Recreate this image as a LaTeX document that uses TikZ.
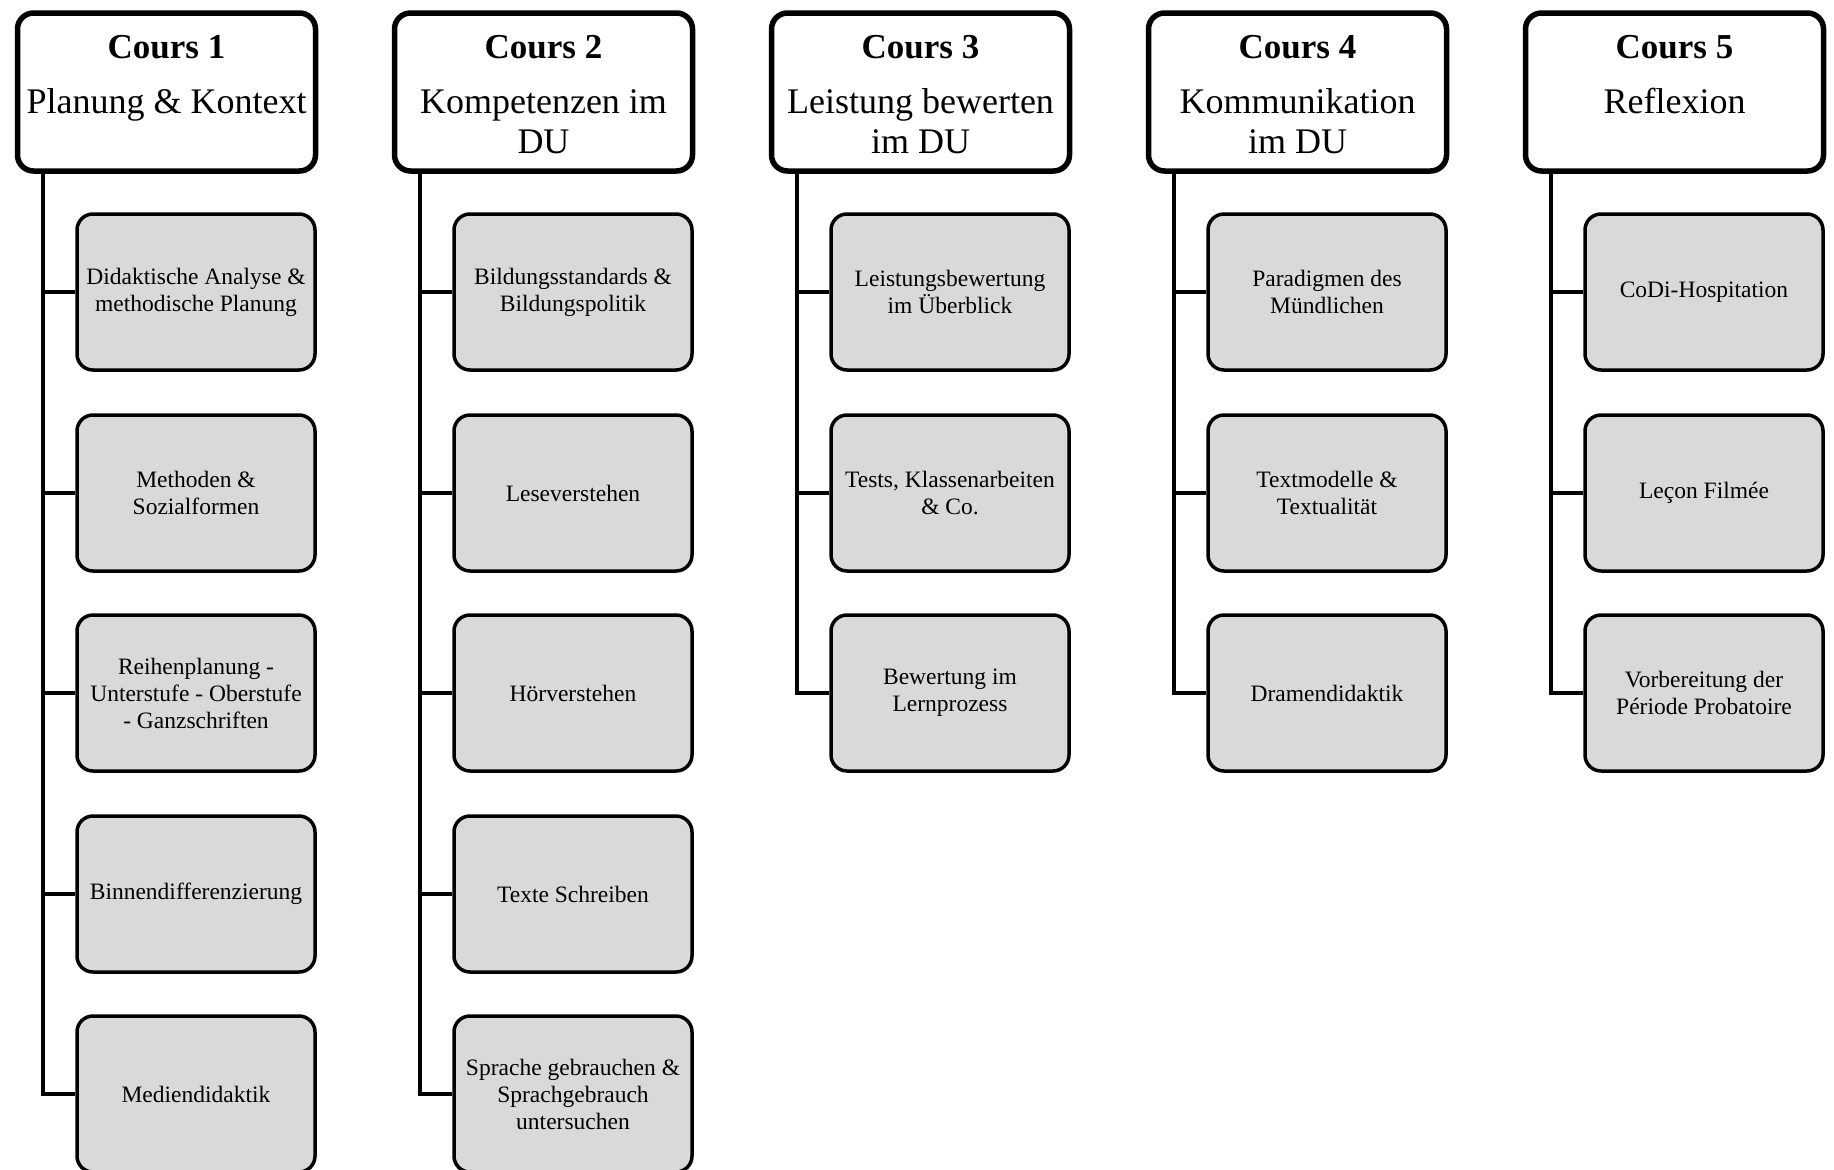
\documentclass[tikz,border=0pt]{standalone}
\usepackage{fontspec}
\setmainfont{Liberation Serif}
\usetikzlibrary{calc}
\definecolor{boxgray}{RGB}{217,217,217}
\begin{document}
\begin{tikzpicture}[x=1pt,y=-1pt,
  hdr/.style={draw, line width=5.5pt, rounded corners=16pt, fill=white,
    minimum width=298pt, minimum height=158pt, inner sep=0pt},
  topic/.style={draw, line width=3.5pt, rounded corners=16pt, fill=boxgray,
    minimum width=238pt, minimum height=156pt, inner sep=0pt, align=center,
    font=\fontsize{23.5}{27}\selectfont},
  ttl/.style={anchor=base, inner sep=0pt, font=\bfseries\fontsize{35}{40}\selectfont},
  ttlsub/.style={anchor=base, inner sep=0pt, font=\fontsize{36}{40}\selectfont},
  conn/.style={line width=4pt}]
\useasboundingbox (0,0) rectangle (1834,1170);
\clip (0,0) rectangle (1834,1170);
\fill[white] (0,0) rectangle (1834,1170);

% ---- course headers ----
\node[hdr] (h1) at (166.5,92) {};
\node[hdr] (h2) at (543.5,92) {};
\node[hdr] (h3) at (920.5,92) {};
\node[hdr] (h4) at (1297.5,92) {};
\node[hdr] (h5) at (1674.5,92) {};

\node[ttl] (h1a) at (166.5,58) {Cours 1};
\node[ttlsub] (h1b) at (166.5,113) {Planung \& Kontext};
\node[ttl] (h2a) at (543.5,58) {Cours 2};
\node[ttlsub] (h2b) at (543.5,113) {Kompetenzen im};
\node[ttlsub] (h2c) at (543.5,153) {DU};
\node[ttl] (h3a) at (920.5,58) {Cours 3};
\node[ttlsub] (h3b) at (920.5,113) {Leistung bewerten};
\node[ttlsub] (h3c) at (920.5,153) {im DU};
\node[ttl] (h4a) at (1297.5,58) {Cours 4};
\node[ttlsub] (h4b) at (1297.5,113) {Kommunikation};
\node[ttlsub] (h4c) at (1297.5,153) {im DU};
\node[ttl] (h5a) at (1674.5,58) {Cours 5};
\node[ttlsub] (h5b) at (1674.5,113) {Reflexion};

% ---- trunk start points below each header ----
\coordinate (t1) at ($(h1.south west)+(28.5,0)$);
\coordinate (t2) at ($(h2.south west)+(28.5,0)$);
\coordinate (t3) at ($(h3.south west)+(28.5,0)$);
\coordinate (t4) at ($(h4.south west)+(28.5,0)$);
\coordinate (t5) at ($(h5.south west)+(28.5,0)$);

% ---- course 1 topics ----
\node[topic] (c1a) at (196,292) {Didaktische Analyse \&\\methodische Planung};
\node[topic] (c1b) at (196,493) {Methoden \&\\Sozialformen};
\node[topic] (c1c) at (196,693) {Reihenplanung -\\Unterstufe - Oberstufe\\- Ganzschriften};
\node[topic] (c1d) at (196,894) {Binnendifferenzierung};
\node[topic] (c1e) at (196,1094) {Mediendidaktik};

% ---- course 2 topics ----
\node[topic] (c2a) at (573,292) {Bildungsstandards \&\\Bildungspolitik};
\node[topic] (c2b) at (573,493) {Leseverstehen};
\node[topic] (c2c) at (573,693) {Hörverstehen};
\node[topic] (c2d) at (573,894) {Texte Schreiben};
\node[topic] (c2e) at (573,1094) {Sprache gebrauchen \&\\Sprachgebrauch\\untersuchen};

% ---- course 3 topics ----
\node[topic] (c3a) at (950,292) {Leistungsbewertung\\im Überblick};
\node[topic] (c3b) at (950,493) {Tests, Klassenarbeiten\\\& Co.};
\node[topic] (c3c) at (950,693) {Bewertung im\\Lernprozess};

% ---- course 4 topics ----
\node[topic] (c4a) at (1327,292) {Paradigmen des\\Mündlichen};
\node[topic] (c4b) at (1327,493) {Textmodelle \&\\Textualität};
\node[topic] (c4c) at (1327,693) {Dramendidaktik};

% ---- course 5 topics ----
\node[topic] (c5a) at (1704,292) {CoDi-Hospitation};
\node[topic] (c5b) at (1704,493) {Leçon Filmée};
\node[topic] (c5c) at (1704,693) {Vorbereitung der\\Période Probatoire};

% ---- connectors ----
\draw[conn] (t1) |- (c1e.west);
\foreach \n in {c1a,c1b,c1c,c1d} \draw[conn] (\n.west) -- (\n.west -| t1);
\draw[conn] (t2) |- (c2e.west);
\foreach \n in {c2a,c2b,c2c,c2d} \draw[conn] (\n.west) -- (\n.west -| t2);
\draw[conn] (t3) |- (c3c.west);
\foreach \n in {c3a,c3b} \draw[conn] (\n.west) -- (\n.west -| t3);
\draw[conn] (t4) |- (c4c.west);
\foreach \n in {c4a,c4b} \draw[conn] (\n.west) -- (\n.west -| t4);
\draw[conn] (t5) |- (c5c.west);
\foreach \n in {c5a,c5b} \draw[conn] (\n.west) -- (\n.west -| t5);
\end{tikzpicture}
\end{document}
